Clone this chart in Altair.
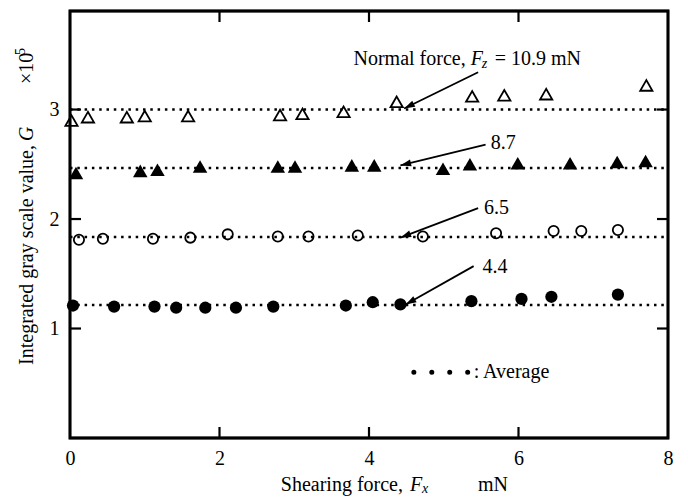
import math
import altair as alt
import pandas as pd

FONT = "Liberation Serif"

# ---- data ----
series_names = ["10.9", "8.7", "6.5", "4.4"]

fx_109 = [0.02, 0.24, 0.76, 1.00, 1.58, 2.81, 3.11, 3.66, 4.37, 5.38, 5.81, 6.37, 7.71]
g_109 = [2.90, 2.93, 2.93, 2.94, 2.94, 2.95, 2.96, 2.98, 3.07, 3.12, 3.13, 3.14, 3.22]

fx_87 = [0.08, 0.94, 1.17, 1.74, 2.78, 3.01, 3.77, 4.07, 4.99, 5.35, 5.99, 6.69, 7.32, 7.70]
g_87 = [2.42, 2.44, 2.45, 2.48, 2.48, 2.48, 2.49, 2.49, 2.46, 2.50, 2.51, 2.51, 2.52, 2.53]

fx_65 = [0.12, 0.44, 1.11, 1.61, 2.11, 2.78, 3.19, 3.85, 4.72, 5.70, 6.47, 6.84, 7.33]
g_65 = [1.81, 1.82, 1.82, 1.83, 1.86, 1.84, 1.84, 1.85, 1.84, 1.87, 1.89, 1.89, 1.90]

fx_44 = [0.04, 0.59, 1.13, 1.42, 1.81, 2.22, 2.72, 3.69, 4.05, 4.42, 5.37, 6.04, 6.44, 7.33]
g_44 = [1.21, 1.20, 1.20, 1.19, 1.19, 1.19, 1.20, 1.21, 1.24, 1.22, 1.25, 1.27, 1.29, 1.31]

avg_levels = [3.00, 2.466, 1.835, 1.215]

# annotation arrows: start (near label) -> tip (on the average line)
arrow_x0 = [5.46, 5.56, 5.46, 5.40]
arrow_y0 = [3.34, 2.68, 2.10, 1.57]
arrow_x1 = [4.47, 4.42, 4.42, 4.49]
arrow_y1 = [3.01, 2.49, 1.83, 1.22]

label_x = [5.63, 5.54, 5.52]
label_y = [2.69, 2.105, 1.56]
label_txt = ["8.7", "6.5", "4.4"]

x_ticks = [0, 2, 4, 6, 8]
x_inner_ticks = [2, 4, 6]
y_ticks = [1, 2, 3]

# ---- layout ----
W, H = 598, 427
XD = [0, 8]
YD = [0, 3.9]
xs = alt.Scale(domain=XD, nice=False, zero=False)
ys = alt.Scale(domain=YD, nice=False, zero=False)

ax_x = alt.Axis(values=x_ticks, title=None, ticks=False, domain=False, grid=False,
                labelFont=FONT, labelFontSize=20, labelPadding=10, labelColor="black",
                labelFlush=False, labelOverlap=False)
ax_y = alt.Axis(values=y_ticks, title=None, ticks=False, domain=False, grid=False,
                labelFont=FONT, labelFontSize=20, labelPadding=11, labelColor="black",
                labelOverlap=False)


def X(f):
    return alt.X(f, type="quantitative", scale=xs, axis=ax_x)


def Y(f):
    return alt.Y(f, type="quantitative", scale=ys, axis=ax_y)


layers = []

# plot frame as a rectangle spanning the full domain (drawn first)
frame_df = pd.DataFrame({"x0": [XD[0]], "x1": [XD[1]], "y0": [YD[0]], "y1": [YD[1]]})
layers.append(
    alt.Chart(frame_df).mark_rect(fill="white", fillOpacity=0, stroke="black", strokeWidth=2.8)
    .encode(x=X("x0"), x2="x1", y=Y("y0"), y2="y1")
)

# average dotted lines
avg_df = pd.DataFrame({"x0": [XD[0]] * 4, "x1": [XD[1]] * 4, "y": avg_levels, "s": series_names})
layers.append(
    alt.Chart(avg_df).mark_rule(color="black", strokeWidth=2.5, strokeDash=[2.5, 4.8])
    .encode(x=X("x0"), x2="x1", y=Y("y"))
)


def pts(fx, g, shape, filled, size, sw=1.8):
    df = pd.DataFrame({"x": fx, "y": g})
    kw = dict(shape=shape, size=size, opacity=1)
    if filled:
        kw.update(filled=True, color="black", strokeWidth=0)
    else:
        kw.update(filled=False, stroke="black", strokeWidth=sw, fillOpacity=0)
    return alt.Chart(df).mark_point(**kw).encode(x=X("x"), y=Y("y"))


layers.append(pts(fx_109, g_109, "triangle-up", False, 150))
layers.append(pts(fx_87, g_87, "triangle-up", True, 210))
layers.append(pts(fx_65, g_65, "circle", False, 105))
layers.append(pts(fx_44, g_44, "circle", True, 150))

# arrows
pxx = W / (XD[1] - XD[0])
pxy = H / (YD[1] - YD[0])
angs = []
for a, b, c, d in zip(arrow_x0, arrow_y0, arrow_x1, arrow_y1):
    dxp = (c - a) * pxx
    dyp = -(d - b) * pxy
    angs.append(math.degrees(math.atan2(dxp, -dyp)) % 360)
arr_df = pd.DataFrame({"xa": arrow_x0, "ya": arrow_y0, "xb": arrow_x1, "yb": arrow_y1, "ang": angs})
layers.append(
    alt.Chart(arr_df).mark_rule(color="black", strokeWidth=1.8)
    .encode(x=X("xa"), y=Y("ya"), x2="xb", y2="yb")
)
layers.append(
    alt.Chart(arr_df).mark_point(shape="M0,0L-0.32,1L0.32,1Z", size=460, filled=True,
                                 color="black", opacity=1, strokeWidth=0)
    .encode(x=X("xb"), y=Y("yb"), angle=alt.Angle("ang:Q", scale=None))
)

# simple numeric labels
lab_df = pd.DataFrame({"x": label_x, "y": label_y, "t": label_txt})
layers.append(
    alt.Chart(lab_df).mark_text(font=FONT, fontSize=20, align="left", baseline="middle", color="black")
    .encode(x=X("x"), y=Y("y"), text="t:N")
)


def dtext(t, x, y, dx=0, dy=0, **kw):
    df = pd.DataFrame({"x": [x], "y": [y], "t": [t]})
    base = dict(font=FONT, fontSize=20, baseline="middle", color="black", dx=dx, dy=dy)
    base.update(kw)
    return alt.Chart(df).mark_text(**base).encode(x=X("x"), y=Y("y"), text="t:N")


# "Normal force, Fz = 10.9 mN"
NF_X, NF_Y = 5.36, 3.46
layers.append(dtext("Normal force,", NF_X, NF_Y, dx=-5, align="right"))
layers.append(dtext("F", NF_X, NF_Y, dx=0, align="left", fontStyle="italic"))
layers.append(dtext("z", NF_X, NF_Y, dx=11, dy=5, align="left", fontStyle="italic", fontSize=14))
layers.append(dtext("= 10.9 mN", NF_X, NF_Y, dx=24, align="left"))

# legend sample ": Average"
leg_df = pd.DataFrame({"x0": [4.60], "x1": [5.326], "y": [0.60]})
layers.append(
    alt.Chart(leg_df).mark_rule(color="black", strokeWidth=5, strokeCap="round", strokeDash=[0.01, 17.93])
    .encode(x=X("x0"), x2="x1", y=Y("y"))
)
layers.append(dtext(": Average", 5.40, 0.60, dx=0, align="left"))


def ptext(t, x, y, **kw):
    df = pd.DataFrame({"t": [t]})
    base = dict(font=FONT, fontSize=20, baseline="middle", color="black")
    base.update(kw)
    return alt.Chart(df).mark_text(**base).encode(x=alt.value(x), y=alt.value(y), text="t:N")


# x axis title
layers.append(ptext("Shearing force,", 333, 474, align="right"))
layers.append(ptext("F", 340, 474, align="left", fontStyle="italic"))
layers.append(ptext("x", 352, 478, align="left", fontStyle="italic", fontSize=14))
layers.append(ptext("mN", 408, 474, align="left"))

# y axis title (rotated)
layers.append(ptext("Integrated gray scale value,", -43, 134, align="right", angle=270))
layers.append(ptext("G", -43, 130, align="left", angle=270, fontStyle="italic"))
layers.append(ptext("\u00d710", -43, 73, align="left", angle=270))
layers.append(ptext("5", -49, 44, align="left", angle=270, fontSize=14))

# inward ticks on all four sides
tx = pd.DataFrame({"v": x_inner_ticks})
ty = pd.DataFrame({"v": y_ticks})
TL = 11
layers.append(alt.Chart(tx).mark_rule(color="black", strokeWidth=2.2)
              .encode(x=X("v"), y=alt.value(0), y2=alt.value(TL)))
layers.append(alt.Chart(tx).mark_rule(color="black", strokeWidth=2.2)
              .encode(x=X("v"), y=alt.value(H), y2=alt.value(H - TL)))
layers.append(alt.Chart(ty).mark_rule(color="black", strokeWidth=2.2)
              .encode(y=Y("v"), x=alt.value(0), x2=alt.value(TL)))
layers.append(alt.Chart(ty).mark_rule(color="black", strokeWidth=2.2)
              .encode(y=Y("v"), x=alt.value(W), x2=alt.value(W - TL)))

chart = (
    alt.layer(*layers)
    .properties(width=W, height=H, autosize=alt.AutoSizeParams(type="none"),
                padding={"left": 62, "top": 3, "right": 12, "bottom": 59},
                background="white")
    .configure_view(stroke="black", strokeWidth=2.5)
)

chart.save("out.html", embed_options={"renderer": "svg", "actions": False})
